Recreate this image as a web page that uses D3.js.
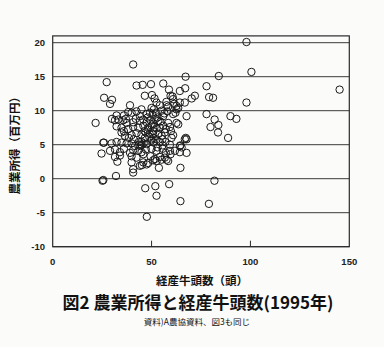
<!DOCTYPE html>
<html>
<head>
<meta charset="utf-8">
<script src="https://cdn.jsdelivr.net/npm/d3@7"></script>
<style>
  body { margin: 0; background: #fbfbfa; }
  svg { display: block; }
  .tick-label { font-family: "Liberation Sans", Arial, sans-serif; font-weight: bold; font-size: 9.5px; fill: #222; }
  .jp { font-family: "Noto Sans CJK JP", sans-serif; fill: #111; }
</style>
</head>
<body>
<script>

// herd size (head of cows) and farm income (million yen)
var herd = [
    98.0, 40.7, 100.5, 84.0, 67.2, 145.1, 27.3, 42.4, 45.5, 49.7,
    55.9, 77.8, 67.0, 64.3, 58.8, 26.0, 30.0, 29.0, 46.6, 50.2,
    51.5, 59.6, 60.6, 71.9, 70.3, 79.1, 81.1, 98.0, 66.8, 39.1,
    52.5, 77.8, 81.9, 89.9, 92.9, 79.8, 83.8, 83.6, 88.7, 21.7,
    67.7, 67.7, 67.3, 67.7, 64.3, 25.6, 24.7, 29.0, 32.7, 31.5,
    25.6, 32.0, 40.7, 40.7, 46.8, 51.9, 52.5, 58.9, 64.6, 79.0,
    81.8, 47.6, 64.6, 53.7, 25.2,
    42.4, 44.9, 50.0, 51.2, 54.2, 57.6, 58.4, 62.6, 63.5, 60.9, 64.3,
    32.3, 36.0, 38.2, 39.9, 44.1, 47.5, 49.2, 50.5, 52.2, 55.9, 60.9, 62.1, 62.6, 30.0, 33.2,
    31.5, 35.7, 37.4, 40.7, 44.1, 45.8, 47.5, 49.5, 50.8, 53.4, 55.9, 58.4, 62.6, 59.3, 63.5,
    32.3, 34.8, 38.2, 40.7, 43.3, 45.8, 48.3, 50.8, 52.5, 54.2, 57.2, 59.8,
    34.8, 36.5, 39.9, 42.4, 44.9, 46.6, 48.8, 50.8, 52.5, 55.1, 56.7, 60.1, 60.9,
    25.9, 29.8, 32.3, 34.8, 37.4, 39.9, 41.6, 43.8, 44.9, 47.5, 50.0, 51.2, 54.2, 55.6, 59.3, 64.6, 66.8,
    31.5, 34.0, 36.0, 39.1, 40.7, 43.3, 44.9, 47.1, 50.0, 52.5, 55.6, 57.2, 59.3, 61.8, 65.2, 64.3,
    34.0, 39.9, 42.4, 45.8, 49.5, 51.7, 54.2, 56.7, 57.6, 59.6, 58.4,
    39.9, 45.8, 47.5, 50.8, 52.5, 55.1, 44.1, 45.1, 48.3,
    45.0, 46.0, 47.0, 48.0, 49.0, 50.0, 51.0, 52.0, 53.0, 46.5,
    43.5, 44.5, 49.8, 51.5, 53.5, 54.5, 48.0, 42.0, 41.0, 38.5,
    37.0, 36.0, 55.0, 56.5, 57.5, 61.5, 58.0, 57.0, 53.0, 55.5
];

var income = [
    20.1, 16.8, 15.7, 15.1, 15.0, 13.1, 14.2, 13.7, 13.8, 13.9,
    14.0, 13.6, 13.3, 12.9, 13.1, 11.9, 11.6, 11.0, 12.2, 12.3,
    11.8, 12.2, 12.1, 12.2, 11.8, 12.0, 11.9, 11.2, 11.2, 10.8,
    11.2, 9.5, 8.7, 9.2, 8.8, 7.6, 7.9, 6.8, 6.0, 8.2,
    9.2, 5.8, 6.0, 3.8, 4.8, 5.3, 3.7, 4.1, 2.5, 3.2,
    -0.2, 0.4, 0.9, 1.4, -1.4, -1.1, -2.5, -0.8, -3.3, -3.7,
    -0.3, -5.6, 1.6, 1.6, -0.3,
    9.9, 10.2, 10.4, 10.2, 10.8, 10.8, 10.6, 10.7, 10.4, 11.7, 11.2,
    9.3, 9.3, 9.8, 9.7, 9.2, 9.5, 9.7, 9.4, 9.7, 9.2, 9.5, 9.7, 10.2, 8.8, 8.7,
    8.6, 8.6, 8.2, 8.3, 8.5, 8.7, 8.3, 8.6, 8.1, 8.5, 7.8, 8.2, 8.2, 7.6, 8.0,
    7.7, 7.5, 7.3, 7.6, 7.5, 7.8, 7.5, 7.0, 7.4, 7.5, 7.3, 7.0,
    6.8, 6.3, 6.4, 6.7, 6.5, 6.0, 6.2, 6.5, 5.8, 6.3, 6.8, 6.0, 6.4,
    5.3, 5.2, 5.4, 5.3, 5.2, 5.2, 4.8, 5.0, 5.4, 5.1, 5.8, 5.3, 5.4, 4.9, 5.0, 4.9, 5.8,
    4.3, 3.9, 4.4, 3.8, 4.2, 4.1, 3.9, 4.3, 4.4, 4.1, 4.4, 3.8, 4.1, 4.1, 4.6, 3.9,
    3.4, 3.3, 3.1, 3.6, 3.3, 2.9, 3.2, 3.1, 2.8, 3.6, 2.6,
    2.4, 2.4, 2.1, 2.7, 2.6, 2.8, 1.9, 2.0, 2.3,
    5.0, 5.2, 6.8, 7.2, 6.6, 7.8, 6.0, 8.8, 9.0, 7.0,
    5.4, 4.8, 5.6, 7.6, 6.6, 8.4, 9.0, 8.8, 5.8, 6.0,
    8.8, 7.0, 10.0, 9.6, 11.3, 11.0, 9.9, 5.4, 4.6, 5.8
];

var xTicks = [0, 50, 100, 150];
var yTicks = [-10, -5, 0, 5, 10, 15, 20];

var yTitle = "農業所得（百万円）";
var xTitle = "経産牛頭数（頭）";
var chartTitle = "図2 農業所得と経産牛頭数(1995年)";
var note = "資料)A農協資料、図3も同じ";

var width = 384,
    height = 347;

var x = d3.scaleLinear().domain([0, 150]).range([52.7, 349.3]);
var y = d3.scaleLinear().domain([-10, 20]).range([246.7, 42.7]);

var svg = d3.select("body").append("svg")
    .attr("width", width)
    .attr("height", height);

// horizontal grid lines every 5
svg.append("g")
    .selectAll("line")
    .data(yTicks)
    .enter().append("line")
    .attr("x1", x(0))
    .attr("x2", x(150))
    .attr("y1", function(d) { return y(d); })
    .attr("y2", function(d) { return y(d); })
    .attr("stroke", "#3a3a3a")
    .attr("stroke-width", 1);

// plot frame
svg.append("rect")
    .attr("x", x(0))
    .attr("y", y(21))
    .attr("width", x(150) - x(0))
    .attr("height", y(-10) - y(21))
    .attr("fill", "none")
    .attr("stroke", "#2a2a2a")
    .attr("stroke-width", 1.2);

// inner tick marks on the x axis
svg.append("g")
    .selectAll("line")
    .data(xTicks.slice(1, -1))
    .enter().append("line")
    .attr("x1", function(d) { return x(d); })
    .attr("x2", function(d) { return x(d); })
    .attr("y1", y(-10))
    .attr("y2", y(-10) - 6)
    .attr("stroke", "#2a2a2a");

// tick labels
svg.append("g")
    .selectAll("text")
    .data(yTicks)
    .enter().append("text")
    .attr("class", "tick-label")
    .attr("x", 45)
    .attr("y", function(d) { return y(d) + 3.5; })
    .attr("text-anchor", "end")
    .text(function(d) { return d; });

svg.append("g")
    .selectAll("text")
    .data(xTicks)
    .enter().append("text")
    .attr("class", "tick-label")
    .attr("x", function(d) { return x(d); })
    .attr("y", 265)
    .attr("text-anchor", "middle")
    .text(function(d) { return d; });

// the farms
var points = herd.map(function(h, i) { return {herd: h, income: income[i]}; });

svg.append("g")
    .selectAll("circle")
    .data(points)
    .enter().append("circle")
    .attr("cx", function(d) { return x(d.herd); })
    .attr("cy", function(d) { return y(d.income); })
    .attr("r", 3.7)
    .attr("fill", "none")
    .attr("stroke", "#1a1a1a")
    .attr("stroke-width", 1);

// titles
svg.append("text")
    .attr("class", "jp")
    .attr("transform", "translate(19," + y(5.3) + ") rotate(-90)")
    .attr("text-anchor", "middle")
    .attr("font-size", 11.5)
    .attr("font-weight", "bold")
    .text(yTitle);

svg.append("text")
    .attr("class", "jp")
    .attr("x", 202)
    .attr("y", 285)
    .attr("text-anchor", "middle")
    .attr("font-size", 11.5)
    .attr("font-weight", "bold")
    .text(xTitle);

svg.append("text")
    .attr("class", "jp")
    .attr("x", 198)
    .attr("y", 309)
    .attr("text-anchor", "middle")
    .attr("font-size", 17)
    .attr("font-weight", "bold")
    .text(chartTitle);

svg.append("text")
    .attr("class", "jp")
    .attr("x", 197)
    .attr("y", 325)
    .attr("text-anchor", "middle")
    .attr("font-size", 8.5)
    .text(note);

</script>
</body>
</html>
